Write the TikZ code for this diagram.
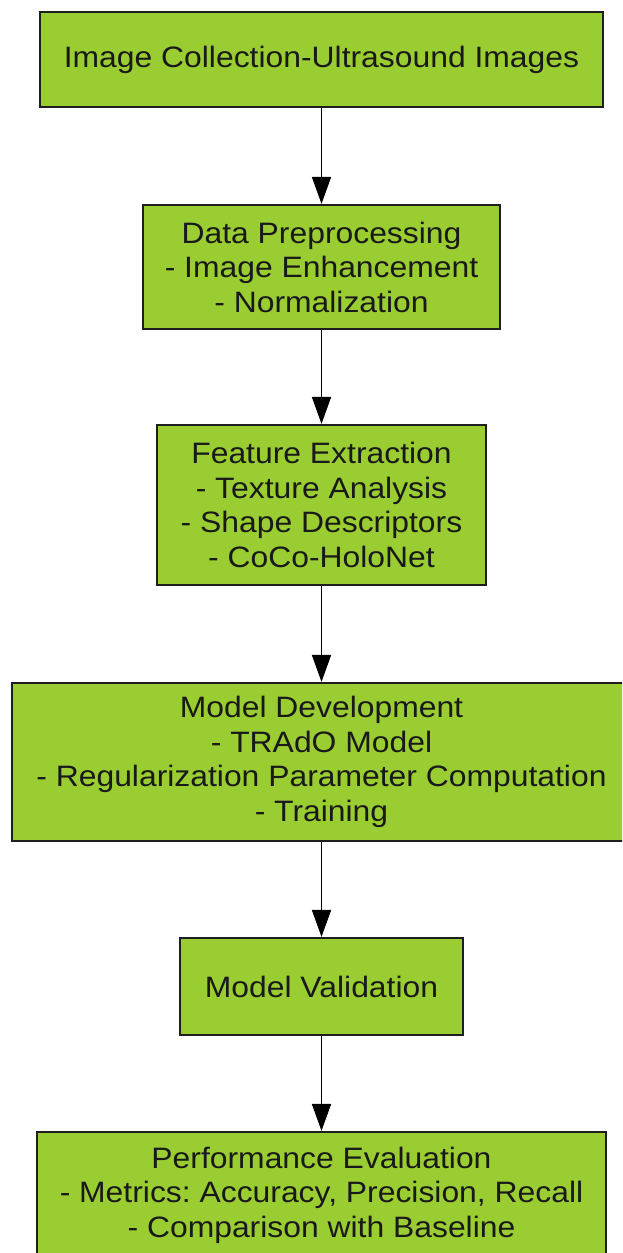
\documentclass[tikz,border=0pt]{standalone}
\usepackage{fontspec}
\setmainfont{Liberation Sans}[FakeStretch=1.08]
\usetikzlibrary{arrows.meta}
\frenchspacing
\definecolor{stepgreen}{HTML}{9ACD32}
\definecolor{stepline}{HTML}{1E1E1E}
\tikzstyle{stepbox}=[rectangle, draw=stepline, fill=stepgreen, line width=2.2pt, align=center, text=black!90, font=\fontsize{29.5}{34.5}\selectfont, inner sep=0pt]

\begin{document}
\begin{tikzpicture}[x=1pt, y=-1pt, >={Triangle[length=27pt, width=19pt]}, line width=1.8pt]
                    \clip (0, 0) rectangle (622, 1253);
                    \node[stepbox, minimum width=563pt, minimum height=95pt]  (collect)  at (321.5, 59.5) {Image Collection-Ultrasound Images};
                    \node[stepbox, minimum width=357pt, minimum height=124pt] (prep)     at (321.5, 267)  {Data Preprocessing\\- Image Enhancement\\- Normalization};
                    \node[stepbox, minimum width=329pt, minimum height=160pt] (feature)  at (321.5, 505)  {Feature Extraction\\- Texture Analysis\\- Shape Descriptors\\- CoCo-HoloNet};
                    \node[stepbox, minimum width=619pt, minimum height=158pt] (develop)  at (321.5, 762)  {Model Development\\- TRAdO Model\\- Regularization Parameter Computation\\- Training};
                    \node[stepbox, minimum width=283pt, minimum height=97pt]  (validate) at (321.5, 986.5) {Model Validation};
                    \node[stepbox, minimum width=569pt, minimum height=126pt] (evaluate) at (321.5, 1195) {Performance Evaluation\\- Metrics: Accuracy, Precision, Recall\\- Comparison with Baseline};
                    \draw[->]  (collect)--(prep);
                    \draw[->]  (prep)--(feature);
                    \draw[->]  (feature)--(develop);
                    \draw[->]  (develop)--(validate);
                    \draw[->]  (validate)--(evaluate);
                \end{tikzpicture}
\end{document}
